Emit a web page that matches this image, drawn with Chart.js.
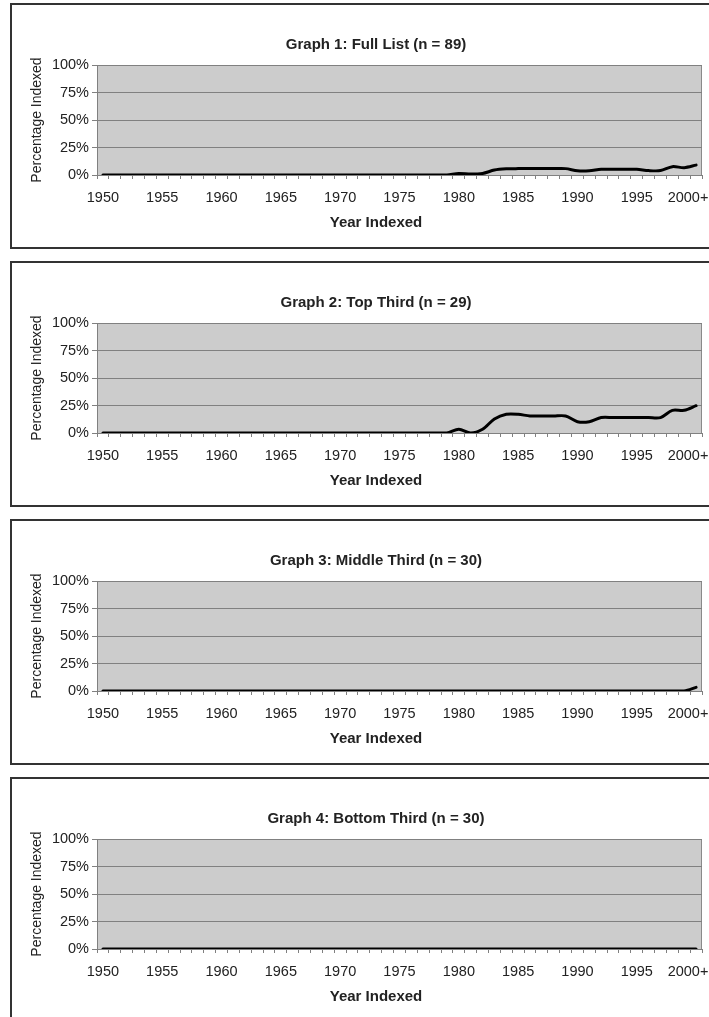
<!DOCTYPE html>
<html>
<head>
<meta charset="utf-8">
<title>Year Indexed</title>
<script src="https://cdn.jsdelivr.net/npm/chart.js@4.4.1/dist/chart.umd.min.js"></script>
<style>
  html, body { margin: 0; padding: 0; background: #fff; overflow: hidden; }
  body { width: 709px; height: 1017px; position: relative; }
  .panel { position: absolute; left: 10px; width: 728px; height: 242px; border: 2px solid #333; background: #fff; }
  .panel canvas { display: block; }
</style>
</head>
<body>
<div class="panel" style="top:3px"><canvas id="graph1" width="728" height="242"></canvas></div>
<div class="panel" style="top:261px"><canvas id="graph2" width="728" height="242"></canvas></div>
<div class="panel" style="top:519px"><canvas id="graph3" width="728" height="242"></canvas></div>
<div class="panel" style="top:777px"><canvas id="graph4" width="728" height="242"></canvas></div>
<script>
// ========== DATA ==========
const years = [
    "1950", "1951", "1952", "1953", "1954", "1955", "1956", "1957", "1958", "1959",
    "1960", "1961", "1962", "1963", "1964", "1965", "1966", "1967", "1968", "1969",
    "1970", "1971", "1972", "1973", "1974", "1975", "1976", "1977", "1978", "1979",
    "1980", "1981", "1982", "1983", "1984", "1985", "1986", "1987", "1988", "1989",
    "1990", "1991", "1992", "1993", "1994", "1995", "1996", "1997", "1998", "1999",
    "2000+"
];
const xTickLabels = ["1950", "1955", "1960", "1965", "1970", "1975", "1980", "1985", "1990", "1995", "2000+"];
const yTickValues = [0, 25, 50, 75, 100];

const graphTitles = [
    "Graph 1: Full List (n = 89)",
    "Graph 2: Top Third (n = 29)",
    "Graph 3: Middle Third (n = 30)",
    "Graph 4: Bottom Third (n = 30)"
];

// percentage indexed per year
const fullList = [
    0, 0, 0, 0, 0, 0, 0, 0, 0, 0,
    0, 0, 0, 0, 0, 0, 0, 0, 0, 0,
    0, 0, 0, 0, 0, 0, 0, 0, 0, 0,
    1.4, 0.8, 1.4, 4.5, 5.6, 5.8, 5.8, 5.8, 5.8, 5.8,
    3.8, 3.8, 5.2, 5.2, 5.2, 5.2, 4.0, 4.0, 7.6, 6.7,
    9.0
];
const topThird = [
    0, 0, 0, 0, 0, 0, 0, 0, 0, 0,
    0, 0, 0, 0, 0, 0, 0, 0, 0, 0,
    0, 0, 0, 0, 0, 0, 0, 0, 0, 0,
    3.4, 0, 3.4, 12.7, 17.0, 17.0, 15.5, 15.5, 15.5, 15.5,
    10.3, 10.3, 14.0, 14.0, 14.0, 14.0, 14.0, 14.0, 20.6, 20.6,
    24.8
];
const middleThird = [
    0, 0, 0, 0, 0, 0, 0, 0, 0, 0,
    0, 0, 0, 0, 0, 0, 0, 0, 0, 0,
    0, 0, 0, 0, 0, 0, 0, 0, 0, 0,
    0, 0, 0, 0, 0, 0, 0, 0, 0, 0,
    0, 0, 0, 0, 0, 0, 0, 0, 0, 0,
    3.3
];
const bottomThird = [
    0, 0, 0, 0, 0, 0, 0, 0, 0, 0,
    0, 0, 0, 0, 0, 0, 0, 0, 0, 0,
    0, 0, 0, 0, 0, 0, 0, 0, 0, 0,
    0, 0, 0, 0, 0, 0, 0, 0, 0, 0,
    0, 0, 0, 0, 0, 0, 0, 0, 0, 0,
    0
];

Chart.defaults.font.family = "'Liberation Sans', Arial, sans-serif";
Chart.defaults.color = "#222";

// grey plot area like the original spreadsheet chart
const plotBackground = {
    id: "plotBackground",
    beforeDraw(chart) {
        const { ctx, chartArea: a } = chart;
        ctx.save();
        ctx.fillStyle = "#cccccc";
        ctx.fillRect(a.left, a.top, a.width, a.height);
        ctx.strokeStyle = "#8a8a8a";
        ctx.lineWidth = 1;
        ctx.beginPath();
        ctx.moveTo(a.right - 0.5, a.top);
        ctx.lineTo(a.right - 0.5, a.bottom);
        ctx.stroke();
        ctx.restore();
    }
};

function makeGraph(id, title, values) {
    new Chart(document.getElementById(id), {
        type: "line",
        data: {
            labels: years,
            datasets: [{
                data: values,
                borderColor: "#000",
                borderWidth: 3,
                pointRadius: 0,
                tension: 0.3,
                fill: false,
                borderCapStyle: "round",
                borderJoinStyle: "round"
            }]
        },
        options: {
            responsive: false,
            animation: false,
            layout: { padding: { left: 17, right: 17, top: 0, bottom: 0 } },
            plugins: {
                legend: { display: false },
                tooltip: { enabled: false },
                title: {
                    display: true,
                    text: title,
                    font: { size: 15, weight: "bold" },
                    padding: { top: 31, bottom: 11 }
                },
                subtitle: {
                    display: true,
                    position: "bottom",
                    text: "Year Indexed",
                    font: { size: 15, weight: "bold" },
                    padding: { top: 9, bottom: 15 }
                }
            },
            scales: {
                x: {
                    offset: true,
                    grid: { offset: true, drawOnChartArea: false, tickLength: 4, color: "#808080" },
                    border: { color: "#808080" },
                    ticks: {
                        autoSkip: false,
                        maxRotation: 0,
                        minRotation: 0,
                        padding: 10,
                        font: { size: 14.5 },
                        callback(value) {
                            const label = this.getLabelForValue(value);
                            if (!xTickLabels.includes(label)) return "";
                            // nudge the last label left so it stays inside the frame
                            return label === "2000+" ? label + "    " : label;
                        }
                    },
                    afterFit(scale) {
                        scale.height = 30;
                        // keep the plot's right edge where the original has it
                        scale.paddingRight = 38;
                    }
                },
                y: {
                    min: 0,
                    max: 100,
                    afterBuildTicks(scale) {
                        scale.ticks = yTickValues.map(v => ({ value: v }));
                    },
                    grid: { color: "#808080", tickLength: 5 },
                    border: { color: "#808080" },
                    ticks: { padding: 3, font: { size: 14.5 }, callback: v => v + "%" },
                    title: {
                        display: true,
                        text: "Percentage Indexed",
                        font: { size: 14 },
                        padding: 0
                    },
                    afterFit(scale) {
                        scale.width = 68;
                    }
                }
            }
        },
        plugins: [plotBackground]
    });
}

makeGraph("graph1", graphTitles[0], fullList);
makeGraph("graph2", graphTitles[1], topThird);
makeGraph("graph3", graphTitles[2], middleThird);
makeGraph("graph4", graphTitles[3], bottomThird);
</script>
</body>
</html>
